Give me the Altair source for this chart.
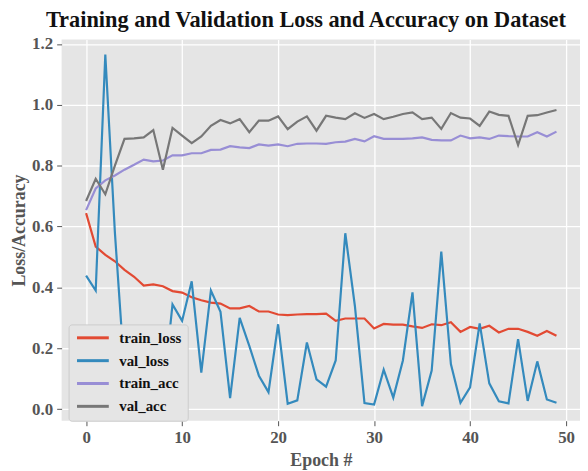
import altair as alt
import pandas as pd

epochs = list(range(50))

train_loss = [0.644, 0.534, 0.507, 0.486, 0.458, 0.435, 0.406, 0.410, 0.404, 0.388,
              0.383, 0.368, 0.358, 0.350, 0.347, 0.331, 0.331, 0.339, 0.321, 0.321,
              0.311, 0.309, 0.311, 0.312, 0.312, 0.314, 0.290, 0.298, 0.298, 0.298,
              0.265, 0.280, 0.278, 0.278, 0.272, 0.267, 0.279, 0.276, 0.286, 0.254,
              0.270, 0.264, 0.274, 0.252, 0.264, 0.264, 0.254, 0.241, 0.257, 0.241]

val_loss = [0.439, 0.390, 1.165, 0.580, 0.120, 0.050, 0.200, 0.100, 0.040, 0.344,
            0.290, 0.420, 0.120, 0.390, 0.320, 0.036, 0.300, 0.208, 0.110, 0.056,
            0.279, 0.018, 0.029, 0.219, 0.098, 0.074, 0.160, 0.578, 0.339, 0.020,
            0.015, 0.130, 0.038, 0.160, 0.384, 0.010, 0.127, 0.518, 0.148, 0.021,
            0.072, 0.282, 0.085, 0.026, 0.019, 0.230, 0.027, 0.157, 0.032, 0.021]

train_acc = [0.654, 0.725, 0.752, 0.768, 0.787, 0.803, 0.820, 0.814, 0.817, 0.834,
             0.834, 0.841, 0.841, 0.852, 0.853, 0.864, 0.860, 0.858, 0.870, 0.866,
             0.870, 0.864, 0.872, 0.873, 0.873, 0.872, 0.877, 0.879, 0.888, 0.880,
             0.897, 0.888, 0.888, 0.888, 0.890, 0.893, 0.885, 0.883, 0.883, 0.899,
             0.890, 0.893, 0.888, 0.899, 0.897, 0.896, 0.896, 0.910, 0.896, 0.912]

val_acc = [0.684, 0.757, 0.706, 0.800, 0.888, 0.890, 0.893, 0.917, 0.787, 0.924,
           0.899, 0.874, 0.896, 0.931, 0.950, 0.939, 0.953, 0.910, 0.948, 0.948,
           0.962, 0.920, 0.945, 0.962, 0.915, 0.964, 0.958, 0.953, 0.972, 0.957,
           0.970, 0.953, 0.961, 0.970, 0.975, 0.953, 0.958, 0.921, 0.973, 0.958,
           0.955, 0.931, 0.978, 0.967, 0.964, 0.868, 0.964, 0.966, 0.975, 0.983]

series_names = ["train_loss", "val_loss", "train_acc", "val_acc"]
series_colors = ["#E24A33", "#348ABD", "#988ED5", "#777777"]
x_ticks = [0, 10, 20, 30, 40, 50]
y_ticks = [0.0, 0.2, 0.4, 0.6, 0.8, 1.0, 1.2]

rows = []
for name, vals in zip(series_names, [train_loss, val_loss, train_acc, val_acc]):
    for e, v in zip(epochs, vals):
        rows.append({"epoch": e, "value": v, "series": name})
df = pd.DataFrame(rows)

font = "Liberation Serif"
pad3 = "\u00a0\u00a0\u00a0"

chart = alt.Chart(df).mark_line(strokeWidth=2.2, clip=True).encode(
    x=alt.X("epoch:Q",
            scale=alt.Scale(domain=[-2.55, 51.45], nice=False, zero=False),
            axis=alt.Axis(values=x_ticks, title="Epoch #", format="d")),
    y=alt.Y("value:Q",
            scale=alt.Scale(domain=[-0.038, 1.215], nice=False, zero=False),
            axis=alt.Axis(values=y_ticks, title="Loss/Accuracy", format=".1f")),
    color=alt.Color("series:N",
                    scale=alt.Scale(domain=series_names, range=series_colors),
                    sort=series_names,
                    legend=alt.Legend(title=None, orient="none", legendX=7, legendY=287,
                                      symbolType="M-1,0L5.4,0", symbolSize=100,
                                      symbolStrokeWidth=3, labelFont=font,
                                      labelFontSize=15, labelFontWeight="bold",
                                      labelColor="#111111", rowPadding=7,
                                      padding=6, fillColor="#e5e5e5",
                                      strokeColor="#cccccc", cornerRadius=3,
                                      labelOffset=30,
                                      labelExpr="datum.label + '" + pad3 + "'")),
    order=alt.Order("epoch:Q"),
    detail="series:N",
).properties(
    width=522,
    height=384,
    title=alt.TitleParams("Training and Validation Loss and Accuracy on Dataset",
                          font=font, fontSize=22.5, fontWeight="bold", color="#111111",
                          offset=4, dx=-15),
    padding={"left": 54, "top": 30, "right": 0, "bottom": 49},
    autosize=alt.AutoSizeParams(type="none"),
).configure_view(
    fill="#E5E5E5", stroke=None
).configure_axis(
    grid=True, gridColor="white", gridWidth=1.3, domain=False,
    tickColor="#555555", tickSize=5, tickWidth=1,
    labelFont=font, labelFontSize=17, labelFontWeight="bold", labelColor="#555555",
    titleFont=font, titleFontSize=18, titleFontWeight="bold", titleColor="#555555",
).configure_axisX(labelPadding=4, titlePadding=6).configure_axisY(labelPadding=4, titlePadding=3)

chart.save("out.html", embed_options={"renderer": "svg", "actions": False})
